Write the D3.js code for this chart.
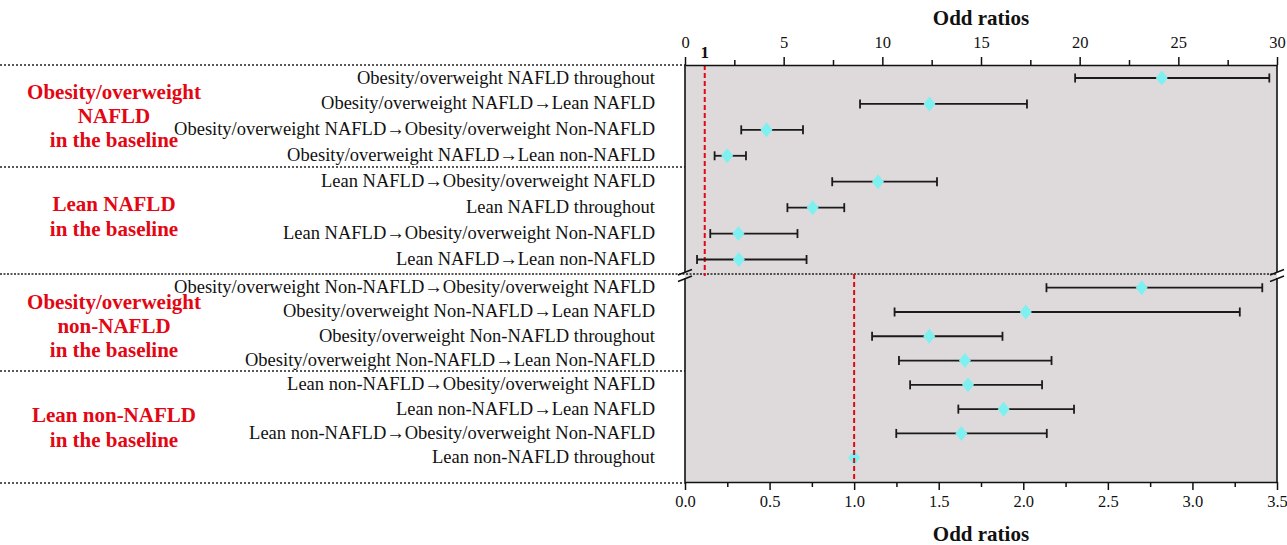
<!DOCTYPE html>
<html>
<head>
<meta charset="utf-8">
<script src="https://cdn.jsdelivr.net/npm/d3@7"></script>
<style>
  html, body { margin: 0; padding: 0; background: #fff; }
  svg { display: block; }
</style>
</head>
<body>
<svg id="chart" width="1287" height="545"></svg>
<script>
// ---------------- DATA ----------------
const groupTitles = [
  ["Obesity/overweight", "NAFLD", "in the baseline"],
  ["Lean NAFLD", "in the baseline"],
  ["Obesity/overweight", "non-NAFLD", "in the baseline"],
  ["Lean non-NAFLD", "in the baseline"]
];

const topLabels = [
  "Obesity/overweight NAFLD throughout",
  "Obesity/overweight NAFLD\u2192Lean NAFLD",
  "Obesity/overweight NAFLD\u2192Obesity/overweight Non-NAFLD",
  "Obesity/overweight NAFLD\u2192Lean non-NAFLD",
  "Lean NAFLD\u2192Obesity/overweight NAFLD",
  "Lean NAFLD throughout",
  "Lean NAFLD\u2192Obesity/overweight Non-NAFLD",
  "Lean NAFLD\u2192Lean non-NAFLD"
];
const topEst = [24.16, 12.39, 4.13, 2.14, 9.78, 6.47, 2.71, 2.73];
const topLo  = [19.77, 8.87, 2.85, 1.50, 7.46, 5.19, 1.28, 0.61];
const topHi  = [29.61, 17.33, 5.98, 3.09, 12.77, 8.07, 5.70, 6.16];

const bottomLabels = [
  "Obesity/overweight Non-NAFLD\u2192Obesity/overweight NAFLD",
  "Obesity/overweight Non-NAFLD\u2192Lean NAFLD",
  "Obesity/overweight Non-NAFLD throughout",
  "Obesity/overweight Non-NAFLD\u2192Lean Non-NAFLD",
  "Lean non-NAFLD\u2192Obesity/overweight NAFLD",
  "Lean non-NAFLD\u2192Lean NAFLD",
  "Lean non-NAFLD\u2192Obesity/overweight Non-NAFLD",
  "Lean non-NAFLD throughout"
];
const bottomEst = [2.70, 2.015, 1.444, 1.655, 1.673, 1.884, 1.634, 1.0];
const bottomLo  = [2.137, 1.239, 1.106, 1.265, 1.331, 1.616, 1.249, null];
const bottomHi  = [3.413, 3.280, 1.877, 2.167, 2.111, 2.300, 2.139, null];

const topTicks = [0, 5, 10, 15, 20, 25, 30];
const topMinorTicks = [2.5, 7.5, 12.5, 17.5, 22.5, 27.5];
const bottomTicks = [0, 0.5, 1.0, 1.5, 2.0, 2.5, 3.0, 3.5];
const bottomMinorTicks = [0.25, 0.75, 1.25, 1.75, 2.25, 2.75, 3.25];
const axisTitle = "Odd ratios";
const refValue = 1;

// ---------------- LAYOUT ----------------
const svg = d3.select("#chart");
const serif = "'Liberation Serif', 'Times New Roman', Times, serif";
const RED = "#e30613";
const CYAN = "#7ff0f0";
const plotL = 685, plotR = 1277;
const plotT = 65, plotB = 482, breakY = 274;

const xTop = d3.scaleLinear().domain([0, 30]).range([plotL, plotR]);
const xBot = d3.scaleLinear().domain([0, 3.5]).range([plotL, plotR]);
const yTop = d3.scalePoint().domain(topLabels).range([78, 259.5]);
const yBot = d3.scalePoint().domain(bottomLabels).range([287.7, 457.7]);

// background
svg.append("rect").attr("x", plotL).attr("y", plotT)
  .attr("width", plotR - plotL).attr("height", plotB - plotT)
  .attr("fill", "#dedadb");

// dotted separators on the left
const sepYs = [plotT, 167, 371, plotB + 1];
sepYs.forEach(y => {
  svg.append("line").attr("x1", 0).attr("x2", plotL).attr("y1", y).attr("y2", y)
    .attr("stroke", "#222").attr("stroke-width", 1.6).attr("stroke-dasharray", "2,2");
});
// break line across
svg.append("line").attr("x1", 0).attr("x2", plotR).attr("y1", breakY).attr("y2", breakY)
  .attr("stroke", "#222").attr("stroke-width", 1.4).attr("stroke-dasharray", "2,1.5");

// reference line (top panel)
svg.append("line").attr("x1", xTop(refValue)).attr("x2", xTop(refValue))
  .attr("y1", plotT).attr("y2", breakY + 2)
  .attr("stroke", RED).attr("stroke-width", 2).attr("stroke-dasharray", "5,3");

// borders
const bl = (x1, y1, x2, y2) => svg.append("line").attr("x1", x1).attr("y1", y1)
  .attr("x2", x2).attr("y2", y2).attr("stroke", "#111").attr("stroke-width", 1.6);
bl(plotL, plotT, plotL, breakY - 2);
bl(plotR, plotT, plotR, breakY - 2);
bl(plotL, breakY + 4, plotL, plotB);
bl(plotR, breakY + 4, plotR, plotB);

// break slashes
[plotL, plotR].forEach(x => {
  [[-7, 275, 7, 269.5], [-7, 281.5, 7, 276]].forEach(s => {
    svg.append("line").attr("x1", x + s[0]).attr("y1", s[1])
      .attr("x2", x + s[2]).attr("y2", s[3])
      .attr("stroke", "#111").attr("stroke-width", 1.5);
  });
});

// ---------------- AXES ----------------
function styleAxis(g) {
  g.selectAll("text").attr("font-family", serif).attr("font-size", 16.5).attr("fill", "#111");
  g.selectAll("line").attr("stroke", "#111").attr("stroke-width", 1.5);
  g.selectAll("path").attr("stroke", "#111").attr("stroke-width", 1.6);
}
const gTop = svg.append("g").attr("transform", `translate(0,${plotT})`)
  .call(d3.axisTop(xTop).tickValues(topTicks).tickSize(8).tickSizeOuter(0).tickPadding(9)
    .tickFormat(d3.format("d")));
styleAxis(gTop);
const gTopMinor = svg.append("g").attr("transform", `translate(0,${plotT})`)
  .call(d3.axisTop(xTop).tickValues(topMinorTicks).tickSize(5).tickFormat(""));
gTopMinor.select(".domain").remove();
styleAxis(gTopMinor);

const gBot = svg.append("g").attr("transform", `translate(0,${plotB})`)
  .call(d3.axisBottom(xBot).tickValues(bottomTicks).tickSize(8).tickSizeOuter(0).tickPadding(5)
    .tickFormat(d3.format(".1f")));
styleAxis(gBot);
const gBotMinor = svg.append("g").attr("transform", `translate(0,${plotB})`)
  .call(d3.axisBottom(xBot).tickValues(bottomMinorTicks).tickSize(5).tickFormat(""));
gBotMinor.select(".domain").remove();
styleAxis(gBotMinor);

// axis titles
svg.append("text").attr("x", (plotL + plotR) / 2).attr("y", 25)
  .attr("text-anchor", "middle").attr("font-family", serif).attr("font-weight", "bold")
  .attr("font-size", 21).attr("fill", "#111").text(axisTitle);
svg.append("text").attr("x", (plotL + plotR) / 2).attr("y", 541)
  .attr("text-anchor", "middle").attr("font-family", serif).attr("font-weight", "bold")
  .attr("font-size", 21).attr("fill", "#111").text(axisTitle);
// "1" marker label
svg.append("text").attr("x", xTop(refValue)).attr("y", 58)
  .attr("text-anchor", "middle").attr("font-family", serif).attr("font-weight", "bold")
  .attr("font-size", 17).attr("fill", "#111").text(String(refValue));

// ---------------- ROW LABELS ----------------
function rowLabels(labels, y) {
  svg.append("g").selectAll("text").data(labels).join("text")
    .attr("x", 655).attr("y", d => y(d) + 5.5)
    .attr("text-anchor", "end").attr("font-family", serif).attr("font-size", 18.5)
    .attr("fill", "#111").text(d => d);
}
rowLabels(topLabels, yTop);
rowLabels(bottomLabels, yBot);

// group titles
const groupBaselines = [[99, 123, 147], [211, 236], [309, 333, 357], [422, 447]];
groupTitles.forEach((lines, gi) => {
  lines.forEach((t, li) => {
    svg.append("text").attr("x", 114).attr("y", groupBaselines[gi][li])
      .attr("text-anchor", "middle").attr("font-family", serif).attr("font-weight", "bold")
      .attr("font-size", 21).attr("fill", RED).text(t);
  });
});

// ---------------- MARKS ----------------
function drawRows(labels, est, lo, hi, x, y) {
  const rows = labels.map((l, i) => ({ l, e: est[i], lo: lo[i], hi: hi[i] }));
  const g = svg.append("g");
  const ci = rows.filter(r => r.lo != null);
  g.selectAll("line.ci").data(ci).join("line").attr("class", "ci")
    .attr("x1", r => x(r.lo)).attr("x2", r => x(r.hi))
    .attr("y1", r => y(r.l)).attr("y2", r => y(r.l))
    .attr("stroke", "#1a1a1a").attr("stroke-width", 1.8);
  ["lo", "hi"].forEach(k => {
    g.selectAll("line.cap" + k).data(ci).join("line").attr("class", "cap" + k)
      .attr("x1", r => x(r[k])).attr("x2", r => x(r[k]))
      .attr("y1", r => y(r.l) - 4.5).attr("y2", r => y(r.l) + 4.5)
      .attr("stroke", "#1a1a1a").attr("stroke-width", 1.8);
  });
  g.selectAll("path.pt").data(rows).join("path").attr("class", "pt")
    .attr("d", r => {
      const cx = x(r.e), cy = y(r.l), w = 6, h = 7.5;
      return `M${cx},${cy - h}L${cx + w},${cy}L${cx},${cy + h}L${cx - w},${cy}Z`;
    })
    .attr("fill", CYAN);
}
drawRows(topLabels, topEst, topLo, topHi, xTop, yTop);
drawRows(bottomLabels, bottomEst, bottomLo, bottomHi, xBot, yBot);

// bottom reference line (drawn over the reference point)
svg.append("line").attr("x1", xBot(refValue)).attr("x2", xBot(refValue))
  .attr("y1", breakY).attr("y2", plotB)
  .attr("stroke", RED).attr("stroke-width", 2).attr("stroke-dasharray", "5,3");
</script>
</body>
</html>
